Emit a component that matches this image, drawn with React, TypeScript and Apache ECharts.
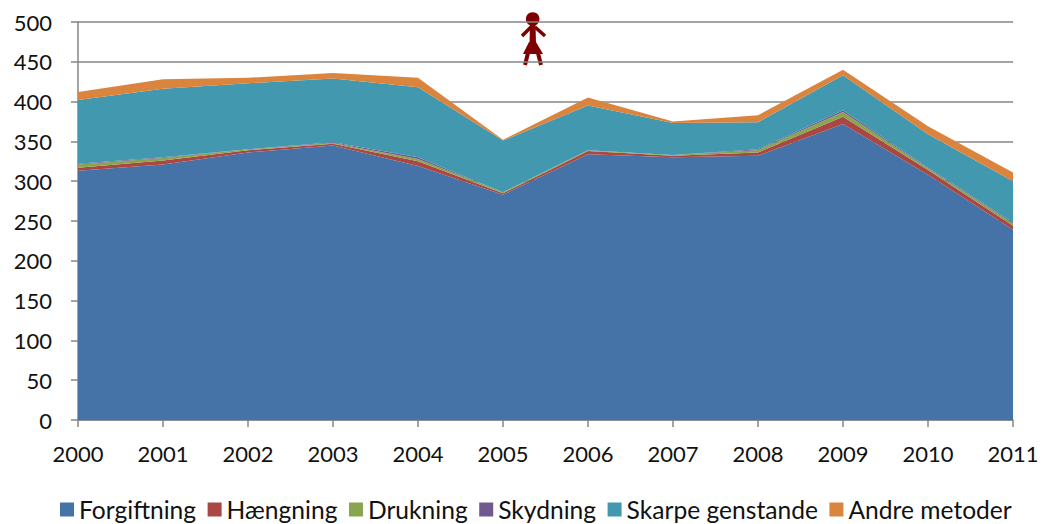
import React, { useEffect, useRef } from "react";
import * as echarts from "echarts";

const years = ["2000","2001","2002","2003","2004","2005","2006","2007","2008","2009","2010","2011"];
const forgiftning = [313,321,336,345,319,283,334,330,332,372,308,239];
const haengning = [4,5,3,2,6,2,4,2,4,9,6,5];
const drukning = [4,3,1,1,3,1,1,1,3,6,2,3];
const skydning = [1,1,0,1,2,0,0,0,1,2,1,1];
const skarpe = [80,86,83,80,88,65,56,40,34,44,42,52];
const andre = [10,12,7,7,12,1,10,2,9,7,10,11];

const FONT = "Lato, Carlito, sans-serif";
const GREY = "#868686";
const RED = "#7f0000";

const seriesDefs: [string, number[], string][] = [
  ["Forgiftning", forgiftning, "#4572A7"],
  ["Hængning", haengning, "#AA4643"],
  ["Drukning", drukning, "#89A54E"],
  ["Skydning", skydning, "#71588F"],
  ["Skarpe genstande", skarpe, "#4198AF"],
  ["Andre metoder", andre, "#DB843D"],
];

export default function App() {
  const ref = useRef<HTMLDivElement>(null);
  useEffect(() => {
    const chart = echarts.init(ref.current!, undefined, { renderer: "svg" });
    chart.setOption({
      animation: false,
      backgroundColor: "#fff",
      textStyle: { fontFamily: FONT },
      grid: { left: 78, right: 32, top: 22, bottom: 104 },
      legend: {
        bottom: -3,
        left: 55,
        itemWidth: 14,
        itemHeight: 14,
        itemGap: 11.5,
        icon: "rect",
        textStyle: { fontFamily: FONT, fontSize: 24.6, color: "#111" },
        data: seriesDefs.map((s) => s[0]),
      },
      xAxis: {
        type: "category",
        boundaryGap: false,
        data: years,
        axisLine: { lineStyle: { color: GREY, width: 1.5 } },
        axisTick: { show: true, length: 7, lineStyle: { color: GREY, width: 1.5 } },
        axisLabel: { fontSize: 22, color: "#111", margin: 22, fontFamily: FONT, showMinLabel: true, showMaxLabel: true, hideOverlap: false, interval: 0 },
      },
      yAxis: {
        type: "value",
        min: 0,
        max: 500,
        interval: 50,
        axisLine: { show: true, lineStyle: { color: GREY, width: 1.5 } },
        axisTick: { show: true, length: 7, lineStyle: { color: GREY, width: 1.5 } },
        axisLabel: { fontSize: 22, color: "#111", margin: 26, fontFamily: FONT },
        splitLine: { show: true, lineStyle: { color: GREY, width: 1.5 } },
      },
      series: seriesDefs.map(([name, values, color]) => ({
        name,
        type: "line",
        stack: "total",
        data: values,
        symbol: "none",
        lineStyle: { width: 0 },
        itemStyle: { color },
        areaStyle: { color, opacity: 1 },
      })),
      graphic: [
        {
          type: "group",
          silent: true,
          z: 100,
          children: [
            { type: "circle", shape: { cx: 532.7, cy: 19, r: 6.8 }, style: { fill: RED } },
            { type: "polygon", shape: { points: [[530, 24], [535.5, 24], [536, 44], [529.5, 44]] }, style: { fill: RED } },
            { type: "line", shape: { x1: 531, y1: 27, x2: 522, y2: 36 }, style: { stroke: RED, lineWidth: 3.5 } },
            { type: "line", shape: { x1: 535, y1: 27, x2: 545, y2: 36 }, style: { stroke: RED, lineWidth: 3.5 } },
            { type: "polygon", shape: { points: [[529, 42], [536, 42], [543, 54], [523, 54]] }, style: { fill: RED } },
            { type: "line", shape: { x1: 528, y1: 53, x2: 525, y2: 65 }, style: { stroke: RED, lineWidth: 4 } },
            { type: "line", shape: { x1: 538, y1: 53, x2: 541, y2: 65 }, style: { stroke: RED, lineWidth: 4 } },
          ],
        },
      ],
    });
    return () => chart.dispose();
  }, []);
  return <div ref={ref} style={{ width: 1045, height: 524, position: "absolute", left: 0, top: 0 }} />;
}
